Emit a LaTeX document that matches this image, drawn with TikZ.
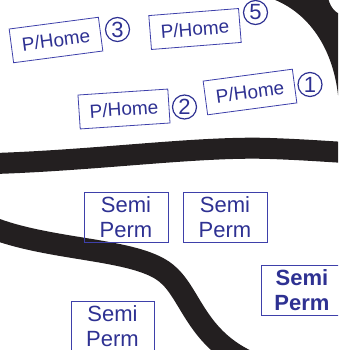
\documentclass[tikz,border=0pt]{standalone}
\usepackage{fontspec}
\setmainfont{Liberation Sans}

\definecolor{textBlue}{RGB}{46,49,146}
\definecolor{lineBlue}{RGB}{62,64,170}
\definecolor{bandBlack}{RGB}{35,31,32}

\begin{document}
\begin{tikzpicture}[x=1pt,y=-1pt,
		homebox/.style={draw=lineBlue, line width=0.8pt, text=textBlue, minimum width=90pt, minimum height=34pt, inner sep=0pt, font=\fontsize{19}{20}\selectfont},
		numring/.style={circle, draw=textBlue, line width=1.2pt, text=textBlue, minimum size=24pt, inner sep=0pt, font=\fontsize{22}{22}\selectfont},
		permbox/.style={draw=lineBlue, line width=0.8pt, text=textBlue, minimum width=84pt, minimum height=50pt, inner sep=0pt, align=center, font=\fontsize{22}{25}\selectfont},
		band/.style={draw=bandBlack, line width=22pt}]
				
				\useasboundingbox (0,0) rectangle (338,350);
				\clip (0,0) rectangle (338,350);
				
				% black bands
				\fill[bandBlack] (270,-2) .. controls (310,12) and (333,50) .. (338,95) -- (345,105) -- (345,15) .. controls (338,15) and (331,10) .. (328,-2) -- cycle;
				\draw[band, line width=21pt] (-5,163.5) .. controls (100,160) and (200,146) .. (270,148.5) .. controls (300,149.5) and (320,151) .. (345,152.5);
				\draw[band] (-10,227) .. controls (50,251) and (135,248) .. (166,273) .. controls (190,292) and (195,335) .. (245,360);
				
				% P/Home boxes
				\node[homebox, rotate=7.5] (Home3) at (56,40) {P/Home};
				\node[numring] (Ring3) at (117.5,29.5) {3};
				
				\node[homebox, rotate=4.5] (Home5) at (195,29) {P/Home};
				\node[numring] (Ring5) at (255.5,12.5) {5};
				
				\node[homebox, rotate=3.8] (Home2) at (124,109) {P/Home};
				\node[numring] (Ring2) at (184.5,107) {2};
				
				\node[homebox, rotate=7.6] (Home1) at (250,92) {P/Home};
				\node[numring] (Ring1) at (310,84.5) {1};
				
				% Semi Perm boxes
				\node[permbox] (SemiA) at (126,217) {Semi\\Perm};
				\node[permbox] (SemiB) at (225,217) {Semi\\Perm};
				\node[permbox, font=\fontsize{22}{25}\selectfont\bfseries, minimum width=82pt] (SemiC) at (302,290) {Semi\\Perm};
				\node[permbox, minimum width=83pt] (SemiD) at (112.5,326) {Semi\\Perm};
				
\end{tikzpicture}
\end{document}
